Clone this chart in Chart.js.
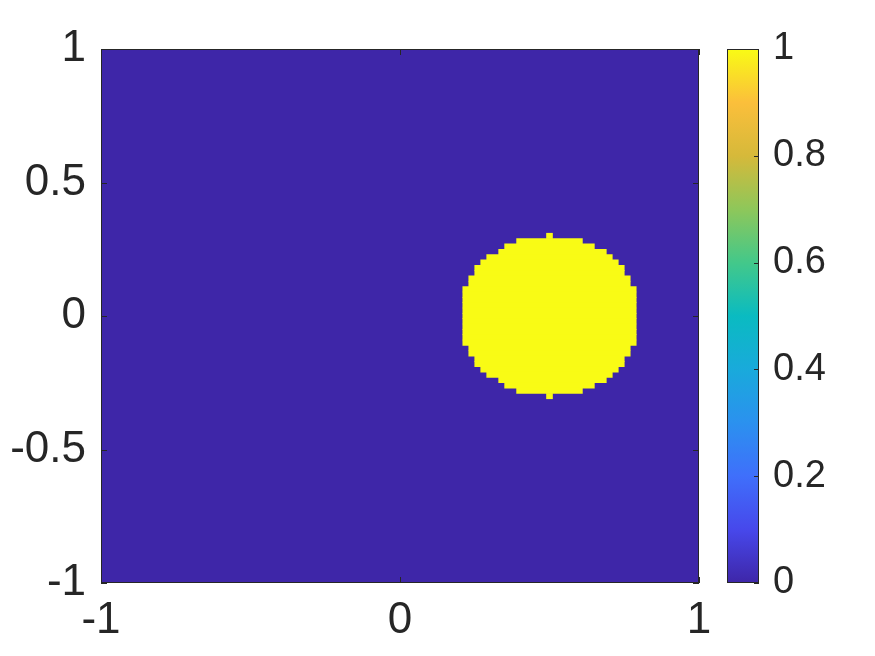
<!DOCTYPE html>
<html>
<head>
<meta charset="utf-8">
<script src="https://cdn.jsdelivr.net/npm/chart.js@4.4.1/dist/chart.umd.min.js"></script>
<style>
  html, body { margin: 0; padding: 0; background: #fff; }
  canvas { display: block; }
</style>
</head>
<body>
<canvas id="c" width="875" height="656"></canvas>
<script>
// ========= data =========

const xTicks = [-1, 0, 1];
const yTicks = [-1, -0.5, 0, 0.5, 1];
const cbTicks = [0, 0.2, 0.4, 0.6, 0.8, 1];

// field is 0 everywhere except a disk where it is 1
const fieldLow = 0;
const fieldHigh = 1;

// one entry per grid row of the disk: row centre y, left / right edge in x
const rowY = [0.30, 0.28, 0.26, 0.24, 0.22, 0.20, 0.18, 0.16, 0.14, 0.12,
  0.10, 0.08, 0.06, 0.04, 0.02, 0, -0.02, -0.04, -0.06, -0.08, -0.10,
  -0.12, -0.14, -0.16, -0.18, -0.20, -0.22, -0.24, -0.26, -0.28, -0.30];
const rowLeft = [0.49, 0.39, 0.35, 0.33, 0.29, 0.27, 0.25, 0.25, 0.23, 0.23,
  0.21, 0.21, 0.21, 0.21, 0.21, 0.21, 0.21, 0.21, 0.21, 0.21, 0.21,
  0.23, 0.23, 0.25, 0.25, 0.27, 0.29, 0.33, 0.35, 0.39, 0.49];
const rowRight = [0.51, 0.61, 0.65, 0.69, 0.71, 0.73, 0.75, 0.75, 0.77, 0.77,
  0.79, 0.79, 0.79, 0.79, 0.79, 0.79, 0.79, 0.79, 0.79, 0.79, 0.79,
  0.77, 0.77, 0.75, 0.75, 0.73, 0.71, 0.69, 0.65, 0.61, 0.51];

// parula colormap
const cmapPos = [0, 0.1, 0.2, 0.3, 0.4, 0.5, 0.6, 0.7, 0.8, 0.9, 1];
const cmapColors = ["#3e26a8", "#4748eb", "#3f6ffb", "#2b91ef", "#19aadb",
  "#0abbc1", "#43c88a", "#8ec75a", "#d6b93a", "#fbbf3b", "#f9fb15"];

const TEXT = "#262626";

function cmapColor(v) {
  let best = 0;
  cmapPos.forEach((p, i) => { if (Math.abs(p - v) < Math.abs(cmapPos[best] - v)) best = i; });
  return cmapColors[best];
}

// ========= plugin: blue field, frame, inner ticks, colorbar =========

const fieldPlugin = {
  id: "field",
  beforeDatasetsDraw(chart) {
    const { ctx, chartArea: a } = chart;
    ctx.save();
    ctx.fillStyle = cmapColor(fieldLow);
    ctx.fillRect(a.left, a.top, a.right - a.left, a.bottom - a.top);
    ctx.restore();
  },
  afterDraw(chart) {
    const { ctx, chartArea: a, scales } = chart;
    const tl = 6;
    ctx.save();
    ctx.strokeStyle = TEXT;
    ctx.lineWidth = 1;

    // plot box + inward ticks
    ctx.strokeRect(a.left + 0.5, a.top + 0.5, a.right - a.left - 1, a.bottom - a.top - 1);
    ctx.beginPath();
    xTicks.forEach(v => {
      const px = Math.round(scales.x.getPixelForValue(v)) + 0.5;
      ctx.moveTo(px, a.bottom); ctx.lineTo(px, a.bottom - tl);
      ctx.moveTo(px, a.top); ctx.lineTo(px, a.top + tl);
    });
    yTicks.forEach(v => {
      const py = Math.round(scales.y.getPixelForValue(v)) + 0.5;
      ctx.moveTo(a.left, py); ctx.lineTo(a.left + tl, py);
      ctx.moveTo(a.right, py); ctx.lineTo(a.right - tl, py);
    });
    ctx.stroke();

    // colorbar
    const cb = scales.cb;
    const x0 = a.right + 28, x1 = a.right + 60;
    const yTop = cb.getPixelForValue(1), yBot = cb.getPixelForValue(0);
    const grad = ctx.createLinearGradient(0, yBot, 0, yTop);
    cmapPos.forEach((p, i) => grad.addColorStop(p, cmapColors[i]));
    ctx.fillStyle = grad;
    ctx.fillRect(x0, yTop, x1 - x0, yBot - yTop);
    ctx.strokeRect(x0 + 0.5, yTop + 0.5, x1 - x0 - 1, yBot - yTop - 1);
    ctx.beginPath();
    cbTicks.forEach(v => {
      const py = Math.round(cb.getPixelForValue(v)) + 0.5;
      ctx.moveTo(x1, py); ctx.lineTo(x1 - 5, py);
    });
    ctx.stroke();
    ctx.restore();
  }
};

// ========= chart =========

const cellData = rowY.map((y, i) => ({ x: [rowLeft[i], rowRight[i]], y: y }));

const axisFont = { family: "Liberation Sans", size: 44 };
const cbFont = { family: "Liberation Sans", size: 38 };

// vertical axes should not push the plot area with their label padding
function noVPad(s) { s.paddingTop = 0; s.paddingBottom = 0; }

new Chart(document.getElementById("c"), {
  type: "bar",
  data: {
    datasets: [{
      data: cellData,
      backgroundColor: cmapColor(fieldHigh),
      borderWidth: 0,
      barPercentage: 1,
      categoryPercentage: 1
    }]
  },
  options: {
    indexAxis: "y",
    responsive: false,
    maintainAspectRatio: false,
    animation: false,
    layout: { padding: { top: 49, left: 0, right: 0, bottom: 0 } },
    plugins: { legend: { display: false }, tooltip: { enabled: false } },
    scales: {
      x: {
        type: "linear",
        position: "bottom",
        min: -1,
        max: 1,
        grid: { display: false, drawTicks: false },
        border: { display: false },
        afterBuildTicks: s => { s.ticks = xTicks.map(v => ({ value: v })); },
        afterFit: s => { s.height = 73; },
        ticks: { color: TEXT, font: axisFont, padding: 11, maxRotation: 0, callback: v => String(v) }
      },
      y: {
        type: "linear",
        position: "left",
        min: -1,
        max: 1,
        offset: false,
        grid: { display: false, drawTicks: false, offset: false },
        border: { display: false },
        afterBuildTicks: s => { s.ticks = yTicks.map(v => ({ value: v })); },
        afterFit: s => { s.width = 101; noVPad(s); },
        ticks: { color: TEXT, font: axisFont, padding: 15, callback: v => String(v) }
      },
      cb: {
        type: "linear",
        position: "right",
        min: 0,
        max: 1,
        offset: false,
        grid: { display: false, drawTicks: false, offset: false },
        border: { display: false },
        afterBuildTicks: s => { s.ticks = cbTicks.map(v => ({ value: v })); },
        afterFit: s => { s.width = 176; noVPad(s); },
        ticks: { color: TEXT, font: cbFont, padding: 74, callback: v => String(v) }
      }
    }
  },
  plugins: [fieldPlugin]
});
</script>
</body>
</html>
